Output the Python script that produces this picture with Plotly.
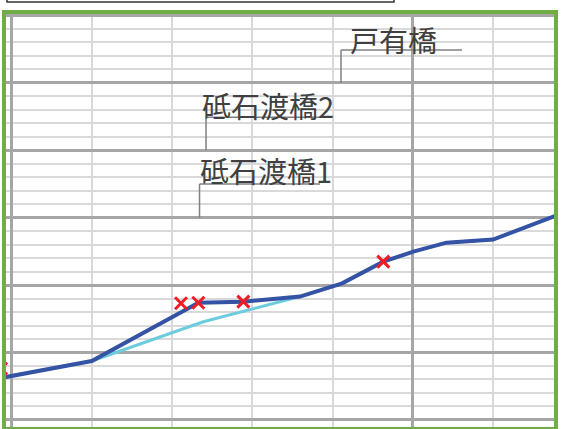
import plotly.graph_objects as go

# ---- data (x: distance units, y: level units) ----
dist_main = [-0.1, 1.0, 2.33, 2.89, 3.595, 4.12, 4.633, 5.007, 5.42, 6.0, 6.85]
level_main = [3.15, 4.37, 8.69, 8.77, 9.15, 10.13, 11.74, 12.48, 13.15, 13.38, 15.3]

dist_sub = [-0.1, 1.0, 2.39, 3.595, 4.12, 4.633, 5.007, 5.42, 6.0, 6.85]
level_sub = [3.15, 4.37, 7.28, 9.15, 10.13, 11.74, 12.48, 13.15, 13.38, 15.3]

cross_x = [-0.13, 2.112, 2.328, 2.889, 4.633]
cross_y = [3.81, 8.65, 8.69, 8.77, 11.74]

labels = ["戸有橋", "砥石渡橋2", "砥石渡橋1"]
label_x = [4.754, 3.196, 3.171]
label_y = [28.26, 23.36, 18.54]
# leader lines: (x of vertical, y top, y bottom, x end of horizontal)
leader_x = [4.106, 2.424, 2.343]
leader_top = [27.44, 22.46, 17.5]
leader_bottom = [25.0, 20.0, 15.0]
leader_end = [5.614, 3.93, 3.844]

fig = go.Figure()
fig.add_trace(go.Scatter(x=dist_sub, y=level_sub, mode="lines",
                         line=dict(color="#6CCBDD", width=3), showlegend=False))
fig.add_trace(go.Scatter(x=dist_main, y=level_main, mode="lines",
                         line=dict(color="#3553A5", width=4), showlegend=False))
fig.add_trace(go.Scatter(x=cross_x, y=cross_y, mode="markers",
                         marker=dict(symbol="x-thin", size=12, color="#EE1C25",
                                     line=dict(color="#EE1C25", width=3)),
                         showlegend=False))

for t, lx, ly in zip(labels, label_x, label_y):
    fig.add_annotation(x=lx, y=ly, xref="x", yref="y", text=t, showarrow=False,
                       font=dict(family="Noto Sans CJK JP", size=29, color="#404040"),
                       xanchor="center", yanchor="middle")

for vx, vt, vb, ve in zip(leader_x, leader_top, leader_bottom, leader_end):
    fig.add_shape(type="line", xref="x", yref="y", x0=vx, x1=vx, y0=vb, y1=vt,
                  line=dict(color="#808080", width=1.5))
    fig.add_shape(type="line", xref="x", yref="y", x0=vx, x1=ve, y0=vt, y1=vt,
                  line=dict(color="#808080", width=1.5))

# green frame around plot area
fig.add_shape(type="rect", xref="paper", yref="paper", x0=0, x1=1, y0=0, y1=1,
              line=dict(color="#70AD47", width=4), layer="above")
# box at top (partially outside)
fig.add_shape(type="rect", xref="paper", yref="paper", x0=0.0054, x1=0.7065,
              y0=1.024, y1=1.2, line=dict(color="#333333", width=1.5))

axis_common = dict(showticklabels=False, ticks="", zeroline=False, showline=False,
                   gridcolor="#A6A6A6", gridwidth=3, tick0=0, dtick=5)
fig.update_xaxes(range=[-0.0935, 6.785], **axis_common,
                 minor=dict(tick0=0, dtick=1, showgrid=True, gridcolor="#D9D9D9", gridwidth=2))
fig.update_yaxes(range=[-0.675, 30.26], **axis_common,
                 minor=dict(tick0=0, dtick=1, showgrid=True, gridcolor="#D9D9D9", gridwidth=2))

fig.update_layout(width=562, height=429, margin=dict(l=4, r=6, t=12, b=0),
                  paper_bgcolor="white", plot_bgcolor="white")

fig.write_html("out.html", config={"displayModeBar": False},
               post_script="document.body.style.margin='0';document.body.style.padding='0';document.body.style.overflow='hidden';")
